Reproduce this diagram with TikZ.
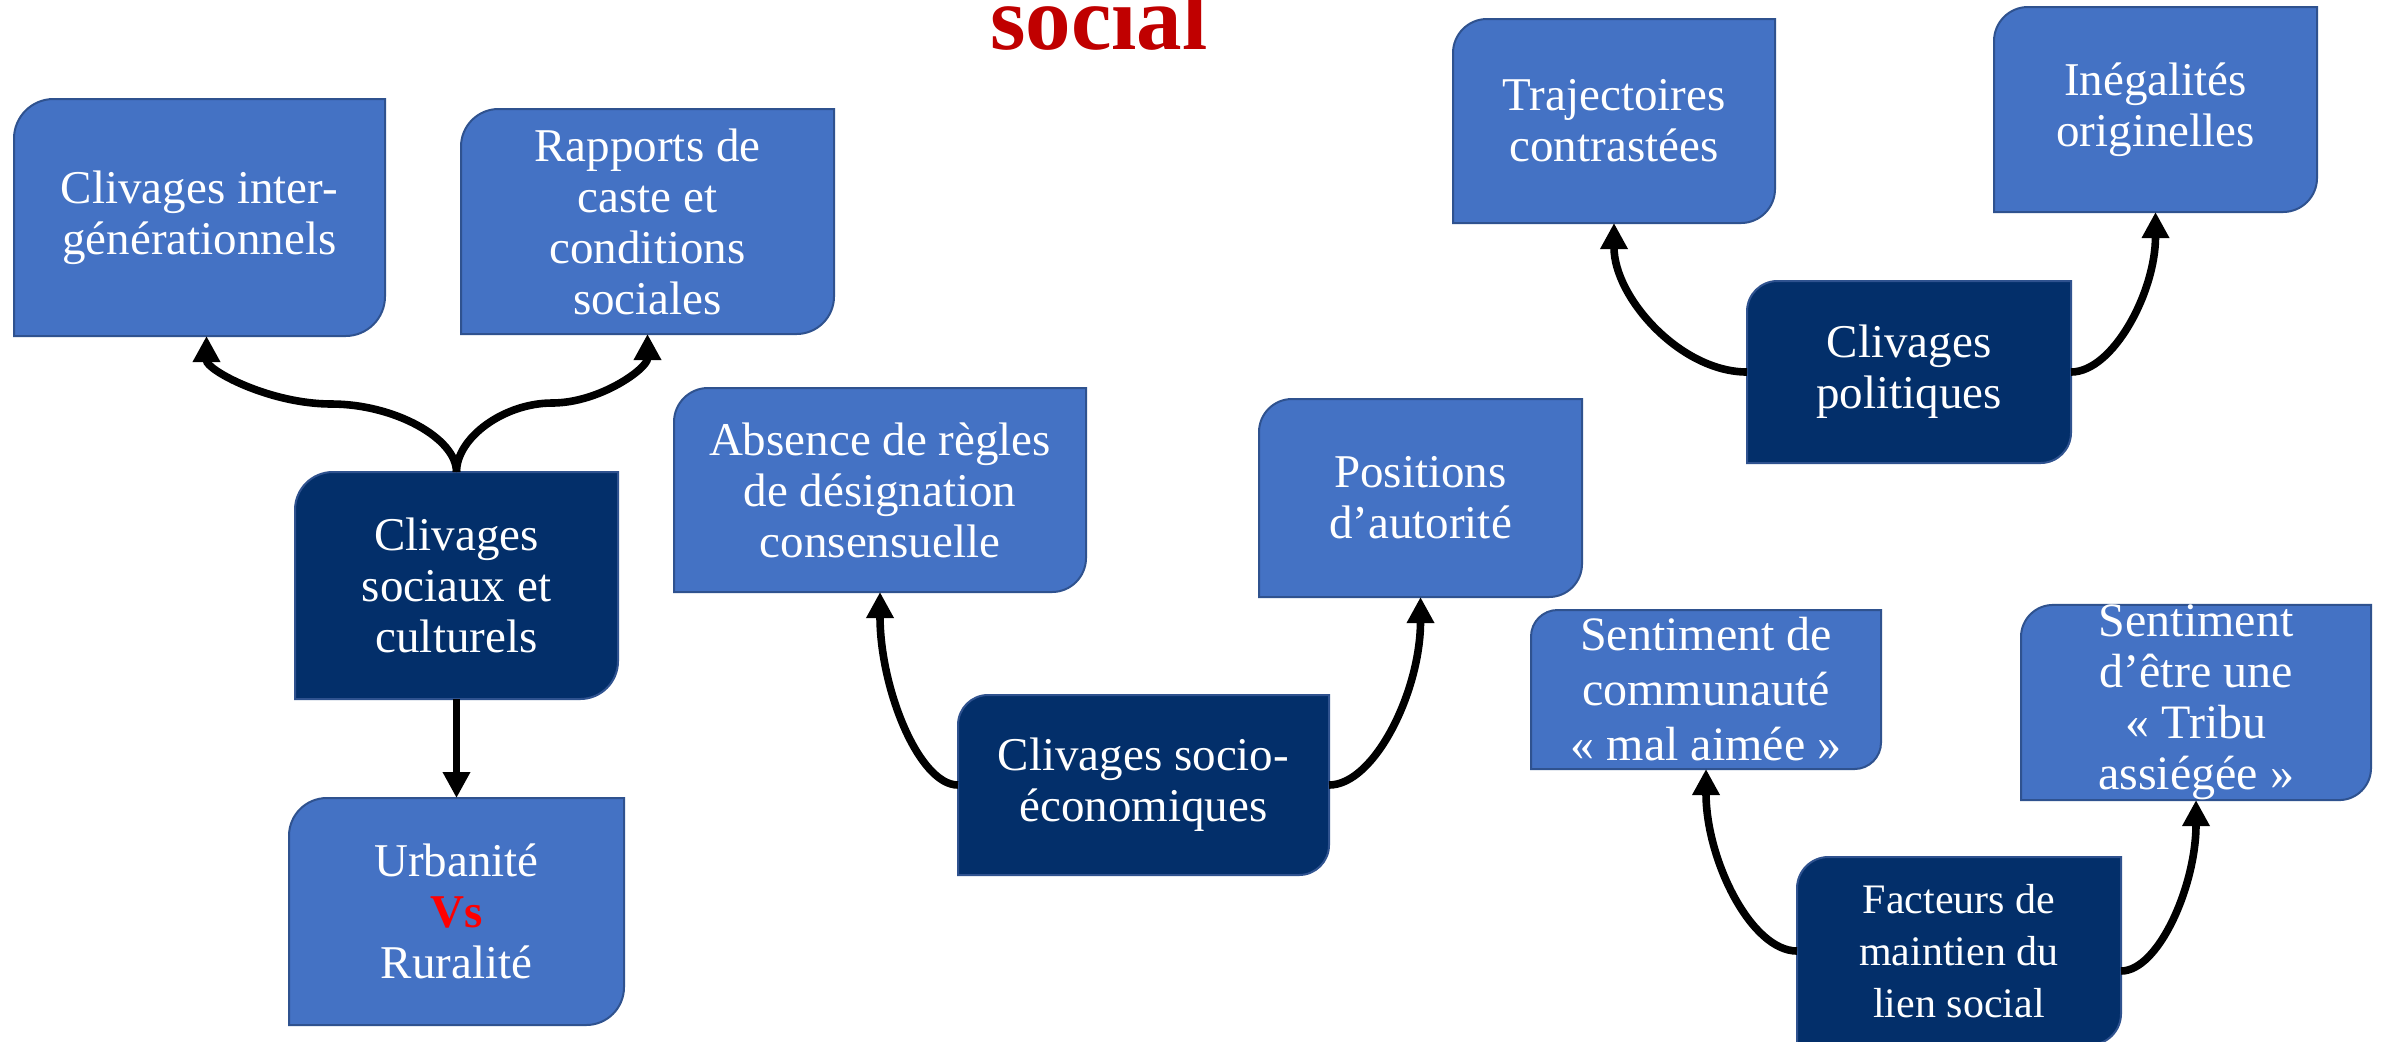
\documentclass[tikz,border=0pt]{standalone}
\usepackage{fontspec}
\setmainfont{Liberation Serif}
\usetikzlibrary{arrows.meta,calc,backgrounds}
\definecolor{lightbox}{RGB}{68,114,196}
\definecolor{darkbox}{RGB}{3,47,106}
\definecolor{edgeblue}{RGB}{47,82,143}
\definecolor{titlered}{RGB}{192,0,0}
\definecolor{vsred}{RGB}{255,0,0}
\newcommand\boxshape[3]{%
  \filldraw[fill=#3, draw=edgeblue, line width=1pt]
    ($(#1.north west)+(0pt,-#2)$) .. controls ($(#1.north west)+(0pt,-0.448*#2)$) and ($(#1.north west)+(0.448*#2,0pt)$) .. ($(#1.north west)+(#2,0pt)$)
    -- (#1.north east)
    -- ($(#1.south east)+(0pt,#2)$) .. controls ($(#1.south east)+(0pt,0.448*#2)$) and ($(#1.south east)+(-0.448*#2,0pt)$) .. ($(#1.south east)+(-#2,0pt)$)
    -- (#1.south west) -- cycle;}
\tikzset{
  boxnode/.style={rectangle, inner sep=0pt, outer sep=0pt, text=white, align=center,
    font=\fontsize{23.5}{25.5}\selectfont},
  link/.style={line width=3.8pt, -{Triangle[length=13pt,width=13pt]}},
}
\begin{document}
\begin{tikzpicture}[x=0.5pt,y=-0.5pt]
\useasboundingbox (0,0) rectangle (2381,1041);

% title
\node[anchor=base, inner sep=0pt, text=titlered, font=\fontsize{45.5}{50}\selectfont\bfseries] (title) at (1099,49) {social};

% boxes
\node[boxnode, minimum width=185.5pt, minimum height=118.5pt] (b1) at (199.5,217.5) {Clivages inter-\\générationnels};
\node[boxnode, minimum width=186.5pt, minimum height=112.5pt] (b2) at (647.5,221.5) {Rapports de\\caste et\\conditions\\sociales};
\node[boxnode, minimum width=161.5pt, minimum height=113.5pt] (b3) at (456.5,585.5) {Clivages\\sociaux et\\culturels};
\node[boxnode, minimum width=167.5pt, minimum height=113.5pt] (b4) at (456.5,911.5) {Urbanité\\{\bfseries\color{vsred}Vs}\\Ruralité};
\node[boxnode, minimum width=206pt, minimum height=102pt] (b5) at (880,490) {Absence de règles\\de désignation\\consensuelle};
\node[boxnode, minimum width=161.5pt, minimum height=99pt] (b6) at (1420.5,498) {Positions\\d’autorité};
\node[boxnode, minimum width=185.5pt, minimum height=90pt] (b7) at (1143.5,785) {Clivages socio-\\économiques};
\node[boxnode, minimum width=161pt, minimum height=102pt] (b8) at (1614,121) {Trajectoires\\contrastées};
\node[boxnode, minimum width=161.5pt, minimum height=102.5pt] (b9) at (2155.5,109.5) {Inégalités\\originelles};
\node[boxnode, minimum width=162pt, minimum height=91pt] (b10) at (1909,372) {Clivages\\politiques};
\node[boxnode, minimum width=175pt, minimum height=79.5pt, font=\fontsize{24}{27.5}\selectfont] (b11) at (1706,689.5) {Sentiment de\\communauté\\«~mal aimée~»};
\node[boxnode, minimum width=175pt, minimum height=96.5pt, font=\fontsize{24}{25.5}\selectfont] (b12) at (2196,702.5) {Sentiment\\d’être une\\«~Tribu\\assiégée~»};
\node[boxnode, minimum width=162pt, minimum height=94pt, font=\fontsize{21}{26}\selectfont] (b13) at (1959,951) {Facteurs de\\maintien du\\lien social};

\begin{scope}[on background layer]
  \fill[white] (0,0) rectangle (2381,1041);
  \boxshape{b1}{19.75pt}{lightbox}
  \boxshape{b2}{18.75pt}{lightbox}
  \boxshape{b3}{18.9pt}{darkbox}
  \boxshape{b4}{18.9pt}{lightbox}
  \boxshape{b5}{17pt}{lightbox}
  \boxshape{b6}{16.5pt}{lightbox}
  \boxshape{b7}{15pt}{darkbox}
  \boxshape{b8}{17pt}{lightbox}
  \boxshape{b9}{17pt}{lightbox}
  \boxshape{b10}{15.2pt}{darkbox}
  \boxshape{b11}{13.25pt}{lightbox}
  \boxshape{b12}{16pt}{lightbox}
  \boxshape{b13}{15.7pt}{darkbox}
\end{scope}

% connectors
\draw[link] (b3.north) .. controls +(0,-34) and +(62.4,0) .. ($(b3.north)!0.5!([xshift=3.5pt]b1.south)$)
  .. controls +(-62.4,0) and +(0,34) .. ([xshift=3.5pt]b1.south);
\draw[link] (b3.north) .. controls +(0,-34.5) and +(-47.75,0) .. ($(b3.north)!0.5!(b2.south)$)
  .. controls +(47.75,0) and +(0,34.5) .. (b2.south);
\draw[link] (b3.south) -- (b4.north);
\draw[link] (b7.west) .. controls +(-39,0) and +(0,96.5) .. (b5.south);
\draw[link] (b7.east) .. controls +(45.5,0) and +(0,94) .. (b6.south);
\draw[link] (b10.west) .. controls +(-66.5,0) and +(0,74.5) .. (b8.south);
\draw[link] (b10.east) .. controls +(42,0) and +(0,80) .. (b9.south);
\draw[link] (b13.west) .. controls +(-46,0) and +(0,90.5) .. (b11.south);
\draw[link] ([yshift=-10pt]b13.east) .. controls +(37.5,0) and +(0,85.5) .. (b12.south);
\end{tikzpicture}
\end{document}
